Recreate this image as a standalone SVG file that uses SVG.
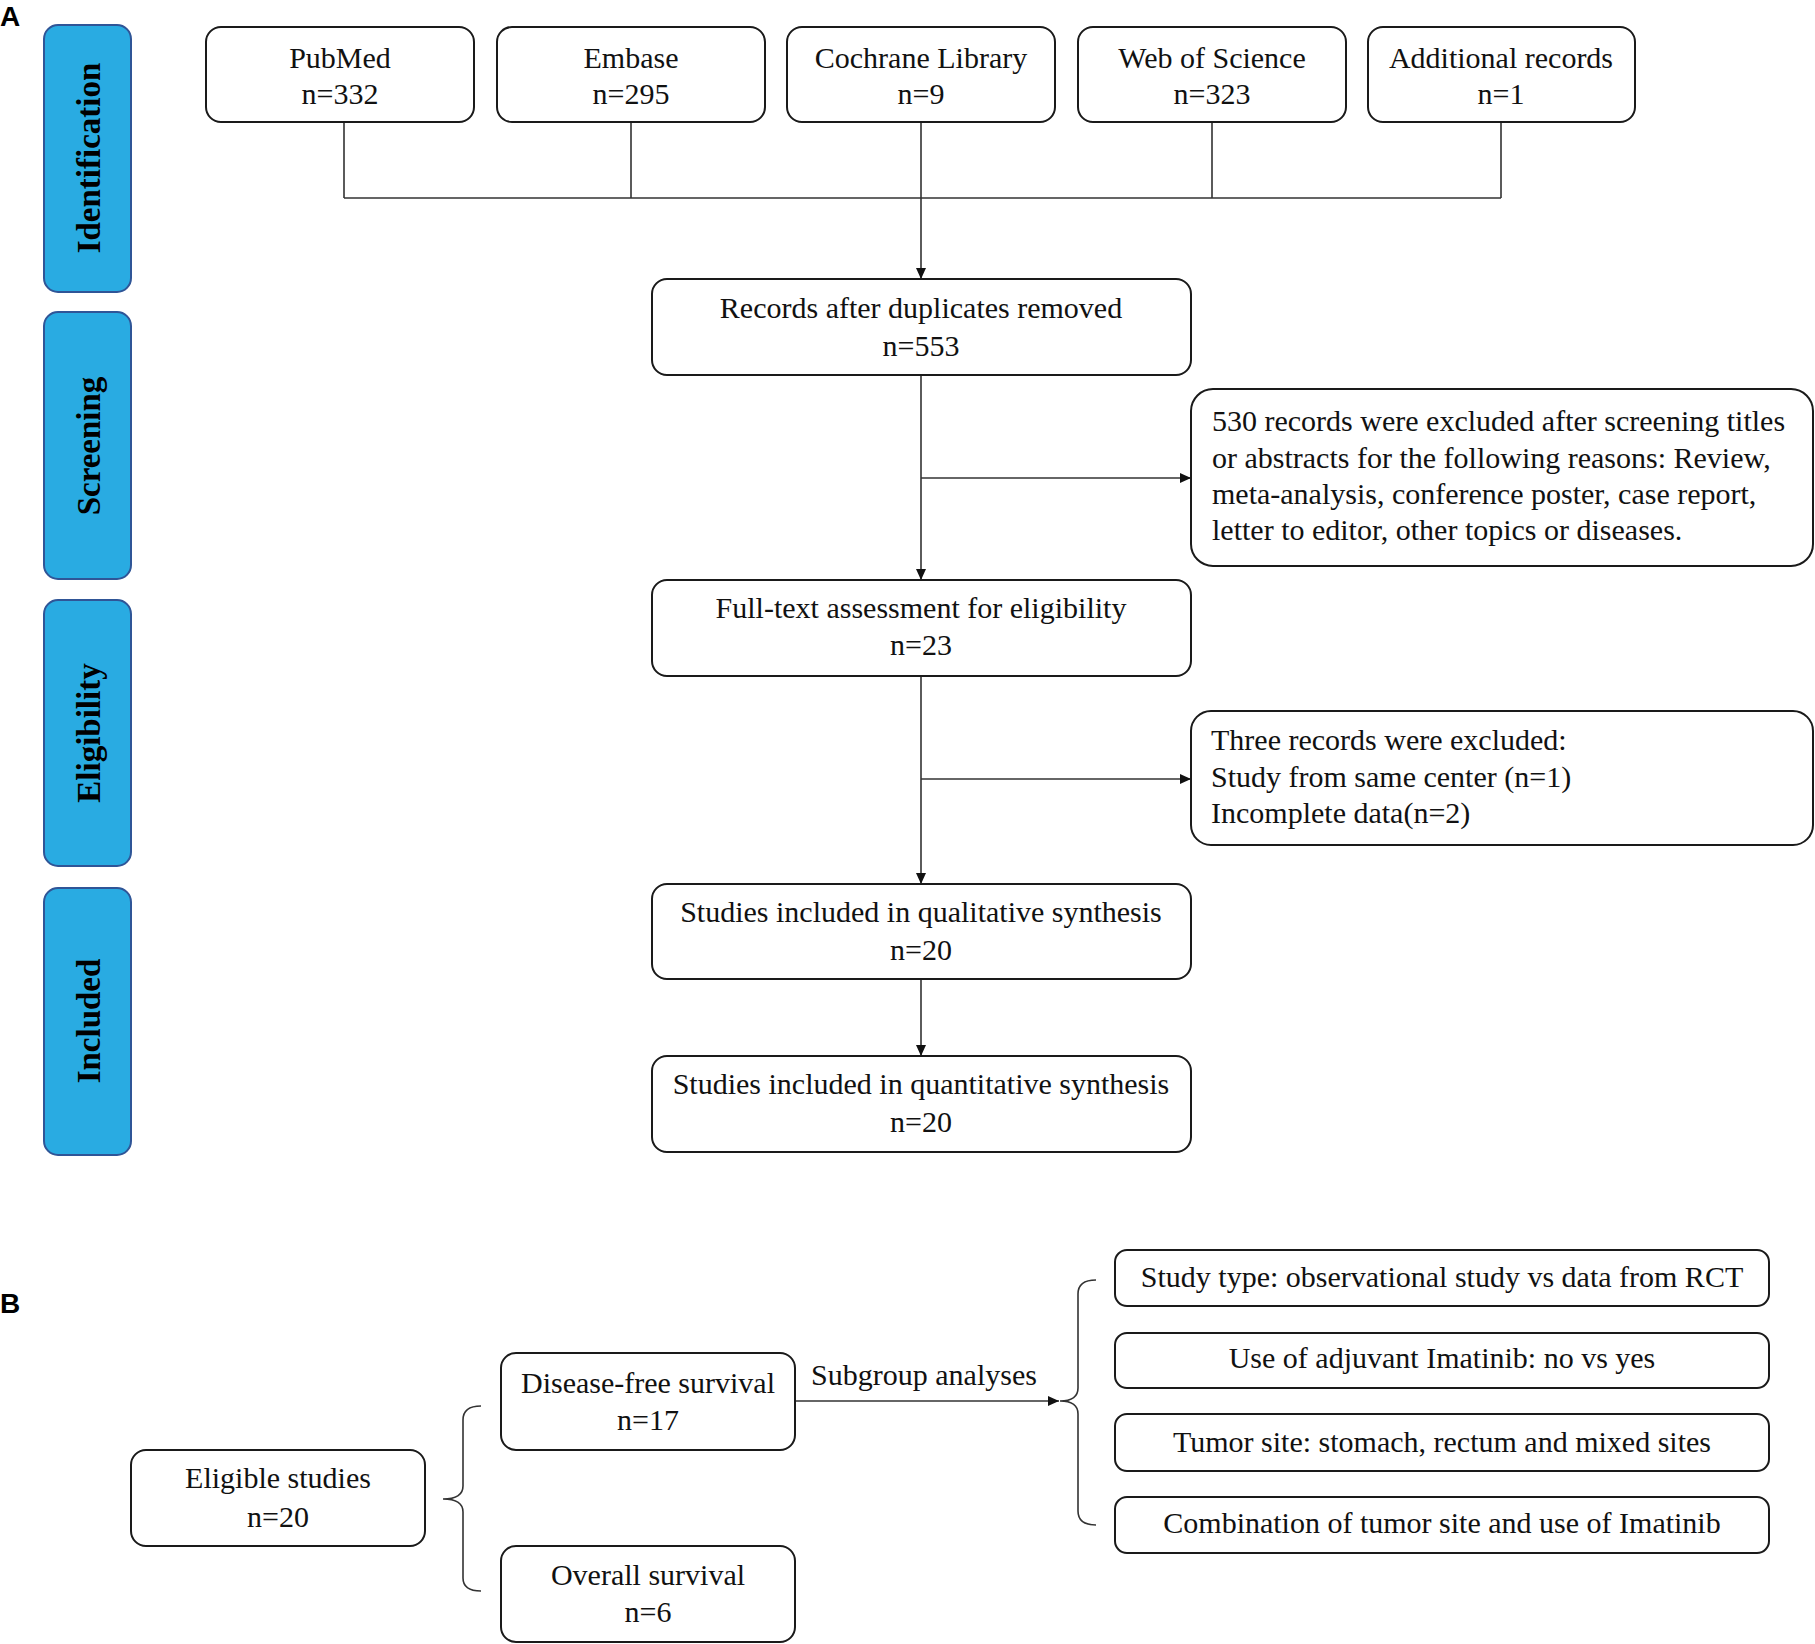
<svg xmlns="http://www.w3.org/2000/svg" width="1815" height="1644" viewBox="0 0 1815 1644">
<style>
.box{fill:#fff;stroke:#1a1a1a;stroke-width:2}
.bar{fill:#29ABE2;stroke:#2F5597;stroke-width:2}
.t{font-family:"Liberation Serif","Times New Roman",serif;font-size:30px;fill:#111}
.c{text-anchor:middle}
.bt{font-family:"Liberation Serif","Times New Roman",serif;font-size:33px;font-weight:bold;fill:#000;text-anchor:middle}
.lbl{font-family:"Liberation Sans",Arial,sans-serif;font-size:28px;font-weight:bold;fill:#000}
.ln{fill:none;stroke:#333;stroke-width:1.6}
</style>
<defs>
<marker id="ah" markerUnits="userSpaceOnUse" markerWidth="11" markerHeight="10" refX="11" refY="5" orient="auto">
<path d="M0,0 L11,5 L0,10 z" fill="#111"/>
</marker>
</defs>
<rect width="1815" height="1644" fill="#fff"/>
<text class="lbl" x="0" y="26">A</text>
<text class="lbl" x="0" y="1313">B</text>

<g id="bar-identification"><rect class="bar" x="44" y="25" width="87" height="267" rx="14"/><text class="bt" transform="translate(100,158) rotate(-90)">Identification</text></g>
<g id="bar-screening"><rect class="bar" x="44" y="312" width="87" height="267" rx="14"/><text class="bt" transform="translate(100,446) rotate(-90)">Screening</text></g>
<g id="bar-eligibility"><rect class="bar" x="44" y="600" width="87" height="266" rx="14"/><text class="bt" transform="translate(100,733) rotate(-90)">Eligibility</text></g>
<g id="bar-included"><rect class="bar" x="44" y="888" width="87" height="267" rx="14"/><text class="bt" transform="translate(100,1021) rotate(-90)">Included</text></g>

<g id="connectors">
<path class="ln" d="M344,122 V198 M631,122 V198 M921,122 V198 M1212,122 V198 M1501,122 V198 M344,198 H1501"/>
<path class="ln" d="M921,198 V279" marker-end="url(#ah)"/>
<path class="ln" d="M921,375 V580" marker-end="url(#ah)"/>
<path class="ln" d="M921,478 H1191" marker-end="url(#ah)"/>
<path class="ln" d="M921,676 V884" marker-end="url(#ah)"/>
<path class="ln" d="M921,779 H1191" marker-end="url(#ah)"/>
<path class="ln" d="M921,979 V1056" marker-end="url(#ah)"/>
<path class="ln" d="M481,1406 Q463,1406 463,1420 L463,1486 Q463,1499 443,1499 Q463,1499 463,1512 L463,1578 Q463,1591 481,1591"/>
<path class="ln" d="M795,1401 H1059" marker-end="url(#ah)"/>
<path class="ln" d="M1096,1280 Q1078,1280 1078,1294 L1078,1388 Q1078,1401 1060,1401 Q1078,1401 1078,1414 L1078,1511 Q1078,1525 1096,1525"/>
</g>

<g id="pubmed"><rect class="box" x="206" y="27" width="268" height="95" rx="15"/><text class="t c" x="340" y="68">PubMed</text><text class="t c" x="340" y="104">n=332</text></g>
<g id="embase"><rect class="box" x="497" y="27" width="268" height="95" rx="15"/><text class="t c" x="631" y="68">Embase</text><text class="t c" x="631" y="104">n=295</text></g>
<g id="cochrane"><rect class="box" x="787" y="27" width="268" height="95" rx="15"/><text class="t c" x="921" y="68">Cochrane Library</text><text class="t c" x="921" y="104">n=9</text></g>
<g id="wos"><rect class="box" x="1078" y="27" width="268" height="95" rx="15"/><text class="t c" x="1212" y="68">Web of Science</text><text class="t c" x="1212" y="104">n=323</text></g>
<g id="additional"><rect class="box" x="1368" y="27" width="267" height="95" rx="15"/><text class="t c" x="1501" y="68">Additional records</text><text class="t c" x="1501" y="104">n=1</text></g>

<g id="records"><rect class="box" x="652" y="279" width="539" height="96" rx="15"/><text class="t c" x="921" y="318">Records after duplicates removed</text><text class="t c" x="921" y="356">n=553</text></g>
<g id="excl1"><rect class="box" x="1191" y="389" width="622" height="177" rx="22"/>
<text class="t" x="1212" y="431">530 records were excluded after screening titles</text>
<text class="t" x="1212" y="468">or abstracts for the following reasons: Review,</text>
<text class="t" x="1212" y="504">meta-analysis, conference poster, case report,</text>
<text class="t" x="1212" y="540">letter to editor, other topics or diseases.</text></g>
<g id="fulltext"><rect class="box" x="652" y="580" width="539" height="96" rx="15"/><text class="t c" x="921" y="618">Full-text assessment for eligibility</text><text class="t c" x="921" y="655">n=23</text></g>
<g id="excl2"><rect class="box" x="1191" y="711" width="622" height="134" rx="20"/>
<text class="t" x="1211" y="750">Three records were excluded:</text>
<text class="t" x="1211" y="787">Study from same center (n=1)</text>
<text class="t" x="1211" y="823">Incomplete data(n=2)</text></g>
<g id="qualitative"><rect class="box" x="652" y="884" width="539" height="95" rx="15"/><text class="t c" x="921" y="922">Studies included in qualitative synthesis</text><text class="t c" x="921" y="960">n=20</text></g>
<g id="quantitative"><rect class="box" x="652" y="1056" width="539" height="96" rx="15"/><text class="t c" x="921" y="1094">Studies included in quantitative synthesis</text><text class="t c" x="921" y="1132">n=20</text></g>

<g id="eligible"><rect class="box" x="131" y="1450" width="294" height="96" rx="15"/><text class="t c" x="278" y="1488">Eligible studies</text><text class="t c" x="278" y="1527">n=20</text></g>
<g id="dfs"><rect class="box" x="501" y="1353" width="294" height="97" rx="15"/><text class="t c" x="648" y="1393">Disease-free survival</text><text class="t c" x="648" y="1430">n=17</text></g>
<g id="os"><rect class="box" x="501" y="1546" width="294" height="96" rx="15"/><text class="t c" x="648" y="1585">Overall survival</text><text class="t c" x="648" y="1622">n=6</text></g>
<g id="subgroup-label"><text class="t c" x="924" y="1385">Subgroup analyses</text></g>

<g id="sg1"><rect class="box" x="1115" y="1250" width="654" height="56" rx="12"/><text class="t c" x="1442" y="1287">Study type: observational study vs data from RCT</text></g>
<g id="sg2"><rect class="box" x="1115" y="1333" width="654" height="55" rx="12"/><text class="t c" x="1442" y="1368">Use of adjuvant Imatinib: no vs yes</text></g>
<g id="sg3"><rect class="box" x="1115" y="1414" width="654" height="57" rx="12"/><text class="t c" x="1442" y="1452">Tumor site: stomach, rectum and mixed sites</text></g>
<g id="sg4"><rect class="box" x="1115" y="1497" width="654" height="56" rx="12"/><text class="t c" x="1442" y="1533">Combination of tumor site and use of Imatinib</text></g>
</svg>
